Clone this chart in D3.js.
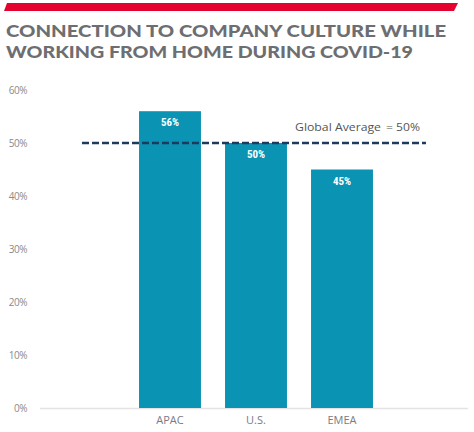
<!DOCTYPE html>
<html><head><meta charset="utf-8">
<script src="https://cdn.jsdelivr.net/npm/d3@7"></script>
<style>body{margin:0;background:#fff}svg{display:block}</style>
</head><body>
<script>
const categories = ["APAC", "U.S.", "EMEA"];
const values = [56, 50, 45];
const yTicks = [0, 10, 20, 30, 40, 50, 60];
const globalAverage = 50;
const titleLines = ["CONNECTION TO COMPANY CULTURE WHILE", "WORKING FROM HOME DURING COVID-19"];
const titleWidths = [440, 407];

const W = 474, H = 432;
const svg = d3.select("body").append("svg").attr("width", W).attr("height", H);

// red banner
svg.append("path").attr("d", "M7,3 L458,3 L454,11 L4,11 Z").attr("fill", "#e4032e");

// title
svg.append("g").selectAll("text").data(titleLines).join("text")
  .attr("x", 6).attr("y", (d, i) => 37 + i * 21)
  .attr("font-family", "Lato, 'DejaVu Sans', sans-serif")
  .attr("font-weight", 900).attr("font-size", 17.5)
  .attr("fill", "#6d6e71")
  .attr("textLength", (d, i) => titleWidths[i]).attr("lengthAdjust", "spacingAndGlyphs")
  .text(d => d);

const y = d3.scaleLinear().domain([0, 60]).range([408, 90]);
const x = d3.scaleBand().domain(categories).range([127, 385]).paddingInner(0.28).paddingOuter(0.14);

// y axis labels
const yAxis = d3.axisLeft(y).tickValues(yTicks).tickFormat(d => d + "%").tickSize(0).tickPadding(0);
const ya = svg.append("g").attr("transform", "translate(27,0)").call(yAxis);
ya.select(".domain").remove();
ya.selectAll("text").attr("font-family", "'Open Sans', sans-serif").attr("font-size", 10)
  .attr("fill", "#8a8a8a").attr("letter-spacing", "-0.5");

// baseline
svg.append("line").attr("x1", 40).attr("x2", 468).attr("y1", y(0) + 0.5).attr("y2", y(0) + 0.5)
  .attr("stroke", "#e3e3e3").attr("stroke-width", 1.5);

// bars
svg.append("g").selectAll("rect").data(values).join("rect")
  .attr("x", (d, i) => x(categories[i])).attr("width", x.bandwidth())
  .attr("y", d => y(d)).attr("height", d => y(0) - y(d))
  .attr("fill", "#0a93b3");

// bar value labels
svg.append("g").selectAll("text").data(values).join("text")
  .attr("x", (d, i) => x(categories[i]) + x.bandwidth() / 2)
  .attr("y", d => y(d) + 15)
  .attr("text-anchor", "middle")
  .attr("font-family", "'Roboto Condensed', 'Liberation Sans Narrow', 'DejaVu Sans Condensed', sans-serif")
  .attr("font-weight", 700).attr("font-size", 11).attr("fill", "#fff")
  .text(d => d + "%");

// x axis labels
const xAxis = d3.axisBottom(x).tickSize(0).tickPadding(0);
const xa = svg.append("g").attr("transform", "translate(0,416)").call(xAxis);
xa.select(".domain").remove();
xa.selectAll("text").attr("font-family", "'Open Sans', sans-serif").attr("font-size", 11)
  .attr("fill", "#7a7a88");

// global average dashed line
svg.append("line").attr("x1", 82).attr("x2", 426)
  .attr("y1", y(globalAverage)).attr("y2", y(globalAverage))
  .attr("stroke", "#1f3a5f").attr("stroke-width", 2.5).attr("stroke-dasharray", "7,3");

const ga = svg.append("text").attr("y", 131)
  .attr("font-family", "'Open Sans', sans-serif").attr("font-size", 10.5)
  .attr("fill", "#555");
ga.append("tspan").attr("x", 295).attr("textLength", 86).attr("lengthAdjust", "spacingAndGlyphs").text("Global Average");
ga.append("tspan").attr("x", 386).attr("textLength", 34).attr("lengthAdjust", "spacingAndGlyphs").text("= " + globalAverage + "%");
</script>
</body></html>
